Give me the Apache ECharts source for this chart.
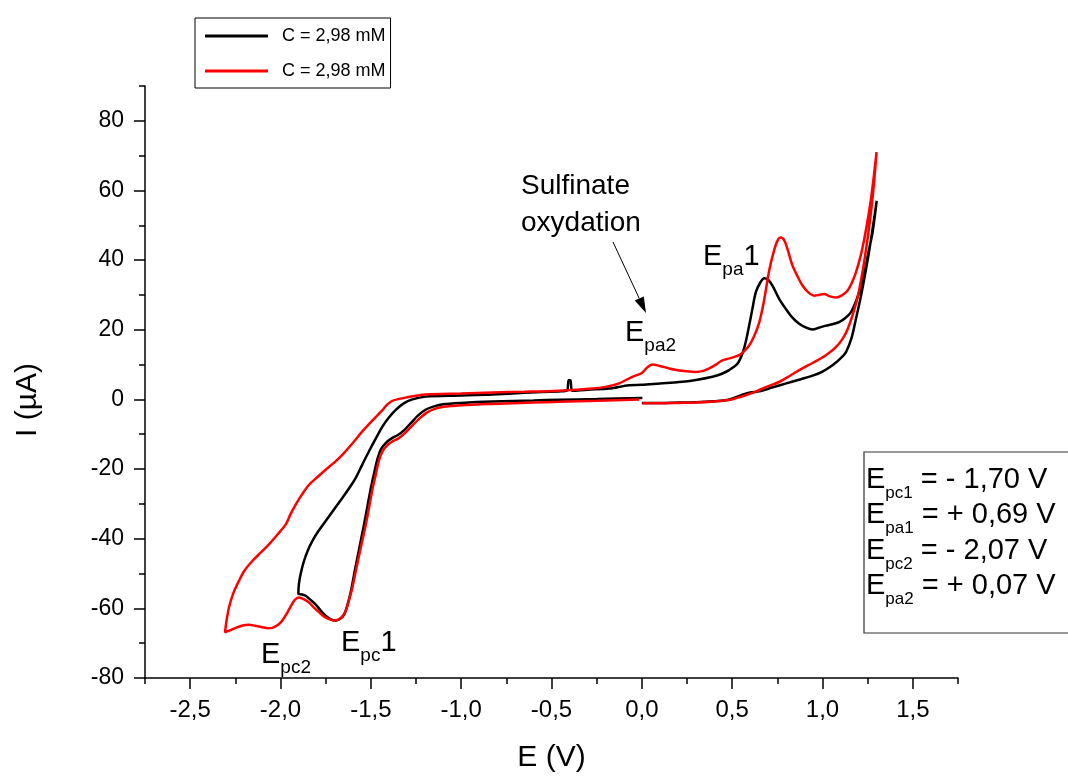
<!DOCTYPE html>
<html lang="en">
	<head>
		<meta charset="UTF-8" />
		<title>Voltammogram</title>
		<script src="https://cdn.jsdelivr.net/npm/echarts@6/dist/echarts.min.js"></script>
		<style>
			* {
				margin: 0;
				padding: 0;
			}
			html,
			body {
				height: 100%;
				background: #fff;
			}
		</style>
	</head>
	<body>
		<div id="main" style="width:1068px;height:778px;"></div>

		<script type="text/javascript">
			// series names (same label twice in the original legend)
			var seriesNames = ["C = 2,98 mM", "C = 2,98 mM "];
			var xTicks = [-2.5, -2.0, -1.5, -1.0, -0.5, 0.0, 0.5, 1.0, 1.5];
			var yTicks = [-80, -60, -40, -20, 0, 20, 40, 60, 80];

			// black curve [E (V), I (uA)]
			var blackCurve = [
				[0.0, -1.0], [0.1, -1.0], [0.2, -0.9], [0.3, -0.8], [0.4, -0.5], [0.48, -0.1], [0.55, 1.2], [0.6, 2.0],
				[0.65, 2.3], [0.72, 3.4], [0.8, 4.6], [0.88, 5.8], [0.95, 6.9], [1.0, 8.0], [1.055, 9.8], [1.1, 11.8],
				[1.13, 13.6], [1.16, 17.5], [1.185, 23.1], [1.21, 29], [1.231, 34.6], [1.255, 41.5], [1.277, 48.9], [1.3, 57.0],
				[1.277, 47.9], [1.255, 42.5], [1.24, 38.4], [1.22, 34], [1.203, 30.8], [1.18, 27.5], [1.157, 25], [1.125, 23.3],
				[1.092, 22.2], [1.055, 21.6], [1.019, 21.2], [0.98, 20.6], [0.945, 20.1], [0.91, 20.6], [0.871, 21.7], [0.83, 23.7],
				[0.797, 26], [0.76, 28.9], [0.723, 32.7], [0.7, 34.3], [0.677, 34.8], [0.655, 33.5], [0.631, 30.8], [0.612, 26],
				[0.594, 21.2], [0.575, 16.5], [0.557, 13.2], [0.53, 10.3], [0.483, 8.4], [0.44, 7.3], [0.391, 6.5], [0.3, 5.6],
				[0.207, 5.0], [0.1, 4.6], [0.0, 4.2], [-0.07, 4.1], [-0.181, 3.1], [-0.3, 2.8], [-0.385, 2.5], [-0.395, 5.5],
				[-0.405, 5.5], [-0.415, 2.5], [-0.458, 2.3], [-0.65, 1.9], [-0.827, 1.4], [-1.0, 1.1], [-1.196, 0.8], [-1.27, 0.0],
				[-1.32, -1.2], [-1.362, -3.0], [-1.4, -5.2], [-1.436, -7.8], [-1.47, -11], [-1.51, -14.9], [-1.55, -19], [-1.584, -22.6],
				[-1.62, -25.5], [-1.658, -28.3], [-1.7, -31.3], [-1.75, -34.9], [-1.79, -37.8], [-1.824, -40.7], [-1.85, -43.5], [-1.87, -46.4],
				[-1.888, -50], [-1.898, -53], [-1.901, -55.9], [-1.88, -56.0], [-1.861, -56.4], [-1.835, -57.5], [-1.805, -58.9], [-1.775, -60.8],
				[-1.75, -62.1], [-1.72, -63.2], [-1.694, -63.5], [-1.67, -63.0], [-1.648, -61.8], [-1.628, -58.8], [-1.61, -55], [-1.588, -49],
				[-1.565, -43], [-1.54, -36.5], [-1.52, -31], [-1.5, -25.5], [-1.482, -21.2], [-1.463, -17], [-1.443, -14.2], [-1.415, -12.4],
				[-1.385, -11.2], [-1.35, -10.2], [-1.315, -8.8], [-1.275, -6.6], [-1.238, -4.6], [-1.195, -2.9], [-1.15, -2.0], [-1.1, -1.4],
				[-1.0, -1.0], [-0.827, -0.6], [-0.6, -0.3], [-0.458, -0.1], [-0.25, 0.1], [0.003, 0.4]
			];

			// red curve
			var redCurve = [
				[0.003, -1.1], [0.1, -1.1], [0.2, -1.0], [0.3, -0.9], [0.4, -0.6], [0.483, -0.2], [0.53, 0.5], [0.576, 1.2],
				[0.62, 2.0], [0.65, 2.7], [0.7, 3.8], [0.76, 5.0], [0.82, 6.8], [0.889, 8.9], [0.95, 10.6], [1.019, 12.7],
				[1.07, 14.8], [1.111, 17.4], [1.14, 20.3], [1.166, 24.1], [1.195, 29.5], [1.221, 36.5], [1.245, 44.5], [1.268, 53.6],
				[1.285, 62], [1.299, 71.0], [1.285, 64.5], [1.268, 57.4], [1.25, 51.5], [1.231, 46], [1.21, 41], [1.185, 36.5],
				[1.16, 33.2], [1.138, 31.2], [1.105, 29.8], [1.074, 29.3], [1.04, 29.6], [1.009, 30.3], [0.98, 30.0], [0.954, 29.8],
				[0.92, 30.8], [0.889, 32.7], [0.86, 35.5], [0.834, 38.4], [0.81, 42.5], [0.79, 45.5], [0.77, 46.5], [0.755, 46],
				[0.733, 43], [0.705, 37], [0.675, 28], [0.649, 22], [0.62, 18], [0.594, 15.5], [0.565, 13.8], [0.539, 12.7],
				[0.5, 12.0], [0.446, 11.2], [0.41, 10], [0.373, 8.9], [0.34, 8.2], [0.299, 7.9], [0.22, 8.2], [0.151, 8.9],
				[0.1, 9.6], [0.059, 10.0], [0.03, 9.2], [0.0, 7.6], [-0.052, 6.5], [-0.126, 4.6], [-0.2, 3.6], [-0.273, 3.1],
				[-0.458, 2.5], [-0.65, 2.2], [-0.827, 2.0], [-1.0, 1.7], [-1.196, 1.4], [-1.3, 0.6], [-1.381, -0.4], [-1.41, -1.5],
				[-1.436, -3.1], [-1.49, -6.0], [-1.547, -9.2], [-1.6, -12.5], [-1.658, -15.9], [-1.7, -18], [-1.75, -20.2],
				[-1.8, -22.5], [-1.842, -24.5], [-1.88, -27.2], [-1.916, -30.2], [-1.945, -33], [-1.971, -35.9], [-2.02, -39], [-2.064, -41.6],
				[-2.11, -44], [-2.156, -46.4], [-2.2, -49.2], [-2.23, -52.1], [-2.26, -55.5], [-2.285, -59.7], [-2.3, -64], [-2.307, -66.9],
				[-2.28, -66.3], [-2.248, -65.6], [-2.21, -64.9], [-2.174, -64.7], [-2.14, -65.0], [-2.1, -65.4], [-2.07, -65.7], [-2.045, -65.6],
				[-2.015, -64.8], [-1.99, -63.5], [-1.96, -61], [-1.925, -57.8], [-1.91, -57.1], [-1.898, -56.9], [-1.87, -57.4], [-1.842, -58.3],
				[-1.815, -59.8], [-1.787, -61.1], [-1.76, -62.3], [-1.731, -63.1], [-1.705, -63.5], [-1.685, -63.3], [-1.66, -62.5], [-1.639, -60.7],
				[-1.62, -57.5], [-1.602, -54], [-1.58, -48.5], [-1.556, -42.6], [-1.53, -36.5], [-1.51, -31.1], [-1.49, -25.5], [-1.473, -21.6],
				[-1.455, -17.5], [-1.436, -14.9], [-1.41, -13.2], [-1.381, -12.1], [-1.344, -11.1], [-1.31, -9.6], [-1.27, -7.5], [-1.233, -5.6],
				[-1.19, -3.8], [-1.15, -2.8], [-1.104, -2.2], [-1.0, -1.7], [-0.827, -1.3], [-0.6, -0.9], [-0.458, -0.7], [-0.25, -0.4],
				[-0.015, 0.0]
			];

			var FONT = "'Liberation Sans', Arial, sans-serif";
			var measureCtx = document.createElement("canvas").getContext("2d");

			function textWidth(str, size) {
				measureCtx.font = size + "px " + FONT;
				return measureCtx.measureText(str).width;
			}

			// E with subscript: parts alternate big / small, placed on the baseline of the big text
			function subText(x, baseline, parts, big, small, drop) {
				var children = [];
				var cx = x;
				for (var i = 0; i < parts.length; i++) {
					var isSub = i % 2 === 1;
					var fs = isSub ? small : big;
					var by = isSub ? baseline + drop : baseline;
					children.push({
						type: "text",
						x: cx,
						y: by - 0.35 * fs,
						style: {
							text: parts[i],
							fill: "#000",
							font: fs + "px " + FONT,
							lineHeight: fs,
							align: "left",
							verticalAlign: "middle"
						}
					});
					cx += textWidth(parts[i], fs);
				}
				return { type: "group", children: children };
			}

			// arrow from (x1,y1) to tip (x2,y2)
			function arrow(x1, y1, x2, y2) {
				var dx = x2 - x1, dy = y2 - y1;
				var len = Math.sqrt(dx * dx + dy * dy);
				var ux = dx / len, uy = dy / len;
				var bx = x2 - ux * 16, by = y2 - uy * 16;
				return [
					{ type: "line", shape: { x1: x1, y1: y1, x2: bx, y2: by }, style: { stroke: "#000", lineWidth: 1 } },
					{
						type: "polygon",
						shape: { points: [[x2, y2], [bx - uy * 5, by + ux * 5], [bx + uy * 5, by - ux * 5]] },
						style: { fill: "#000" }
					}
				];
			}

			var graphics = [
				{ type: "rect", shape: { x: 864, y: 452, width: 220, height: 181 }, style: { fill: "#fff", stroke: "#333", lineWidth: 1.2 } },
				subText(866, 490, ["E", "pc1", " = - 1,70 V"], 29, 17, 9),
				subText(866, 525.5, ["E", "pa1", " = + 0,69 V"], 29, 17, 9),
				subText(866, 561, ["E", "pc2", " = - 2,07 V"], 29, 17, 9),
				subText(866, 596.5, ["E", "pa2", " = + 0,07 V"], 29, 17, 9),
				subText(261, 665, ["E", "pc2"], 29, 19, 9),
				subText(341, 653, ["E", "pc", "1"], 29, 19, 9),
				subText(625, 343, ["E", "pa2"], 29, 19, 9),
				subText(703, 267, ["E", "pa", "1"], 29, 19, 9),
				{
					type: "text",
					x: 521,
					y: 168,
					style: { text: "Sulfinate\noxydation", fill: "#000", font: "28px " + FONT, lineHeight: 37, verticalAlign: "top" }
				},
				{
					// y axis title, rotated
					type: "text",
					x: 28,
					y: 400,
					rotation: Math.PI / 2,
					style: { text: "I (µA)", fill: "#000", font: "30px " + FONT, align: "center", verticalAlign: "middle" }
				}
			].concat(arrow(613, 242, 646, 313));

			var myChart = echarts.init(document.getElementById("main"));
			var option = {
				backgroundColor: "#fff",
				animation: false,
				grid: { left: 145, right: 110, top: 86, bottom: 97 },
				legend: {
					left: 195,
					top: 18,
					orient: "vertical",
					borderColor: "#000",
					borderWidth: 1,
					padding: [8, 5, 7, 10],
					icon: "rect",
					itemWidth: 63,
					itemHeight: 3,
					itemGap: 15,
					textStyle: { fontSize: 18, lineHeight: 20, color: "#000", fontFamily: FONT, padding: [0, 0, 0, 9] },
					formatter: function(name) {
						return name.trim();
					},
					data: seriesNames
				},
				xAxis: [
					{
						type: "value",
						min: -2.75,
						max: 1.75,
						position: "bottom",
						name: "E (V)",
						nameLocation: "middle",
						nameGap: 65,
						nameTextStyle: { fontSize: 30, color: "#000", fontFamily: FONT },
						axisLine: { onZero: false, lineStyle: { color: "#000", width: 1.5 } },
						axisTick: { length: 11, customValues: xTicks, lineStyle: { color: "#000", width: 1.5 } },
						axisLabel: {
							margin: 20,
							customValues: xTicks,
							fontSize: 24,
							color: "#000",
							fontFamily: FONT,
							formatter: function(v) {
								return v.toFixed(1).replace(".", ",");
							}
						},
						splitLine: { show: false }
					},
					{
						type: "value",
						min: -2.75,
						max: 1.75,
						interval: 0.25,
						position: "bottom",
						axisLine: { show: false, onZero: false },
						axisTick: { length: 6, lineStyle: { color: "#000", width: 1.5 } },
						axisLabel: { show: false },
						splitLine: { show: false }
					}
				],
				yAxis: [
					{
						type: "value",
						min: -80,
						max: 90,
						position: "left",
						axisLine: { show: true, onZero: false, lineStyle: { color: "#000", width: 1.5 } },
						axisTick: { show: true, length: 11, customValues: yTicks, lineStyle: { color: "#000", width: 1.5 } },
						axisLabel: { margin: 21, customValues: yTicks, fontSize: 23, color: "#000", fontFamily: FONT },
						splitLine: { show: false }
					},
					{
						type: "value",
						min: -80,
						max: 90,
						interval: 10,
						position: "left",
						axisLine: { show: false, onZero: false },
						axisTick: { show: true, length: 6, lineStyle: { color: "#000", width: 1.5 } },
						axisLabel: { show: false },
						splitLine: { show: false }
					}
				],
				series: [
					{
						name: seriesNames[0],
						type: "line",
						symbol: "none",
						smooth: 0.3,
						data: blackCurve,
						lineStyle: { color: "#000", width: 2.5 },
						itemStyle: { color: "#000" }
					},
					{
						name: seriesNames[1],
						type: "line",
						symbol: "none",
						smooth: 0.3,
						data: redCurve,
						lineStyle: { color: "#ff0000", width: 2.5 },
						itemStyle: { color: "#ff0000" }
					}
				],
				graphic: graphics
			};
			myChart.setOption(option);
		</script>
	</body>
</html>
